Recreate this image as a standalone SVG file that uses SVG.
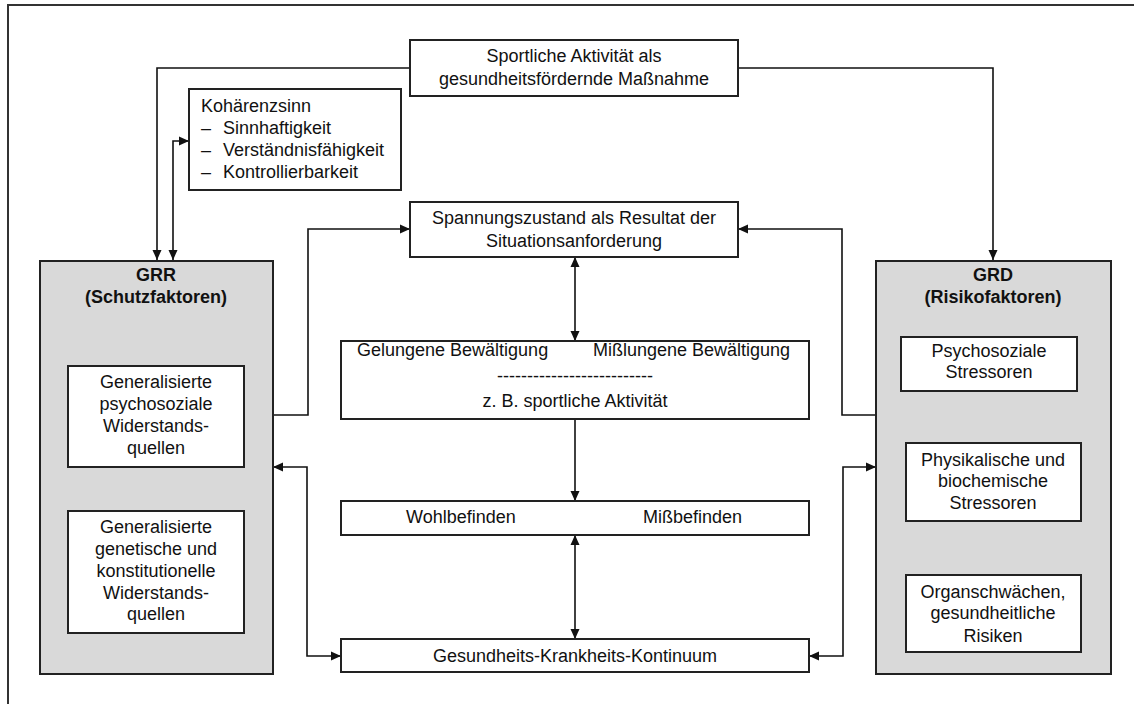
<svg xmlns="http://www.w3.org/2000/svg" width="1134" height="704" viewBox="0 0 1134 704">
  <style>
    text { font-family: "Liberation Sans", Arial, sans-serif; font-size: 18px; fill: #111; }
    .c { text-anchor: middle; }
    .b { font-weight: bold; }
    .box { fill: #fff; stroke: #222; stroke-width: 2; }
    .grp { fill: #d9d9d9; stroke: #222; stroke-width: 2; }
    .frame { fill: none; stroke: #333; stroke-width: 2; }
    .conn { fill: none; stroke: #111; stroke-width: 1.6; }
  </style>
  <defs>
    <marker id="arrow" viewBox="0 0 10 10" refX="10" refY="5" markerWidth="10" markerHeight="10" markerUnits="userSpaceOnUse" orient="auto-start-reverse">
      <path d="M0,0.5 L10,5 L0,9.5 Z" fill="#111"/>
    </marker>
  </defs>

  <!-- outer frame -->
  <rect class="frame" x="8" y="5" width="1140" height="720"/>

  <!-- connectors -->
  <g id="connectors">
    <path class="conn" d="M410,68 H157 V260" marker-end="url(#arrow)"/>
    <path class="conn" d="M173,260 V141 H189" marker-start="url(#arrow)" marker-end="url(#arrow)"/>
    <path class="conn" d="M738,68 H993 V260" marker-end="url(#arrow)"/>
    <path class="conn" d="M273,415 H308 V229 H410" marker-end="url(#arrow)"/>
    <path class="conn" d="M876,415 H842 V229 H738" marker-end="url(#arrow)"/>
    <path class="conn" d="M575,257 V341" marker-start="url(#arrow)" marker-end="url(#arrow)"/>
    <path class="conn" d="M575,419 V501" marker-end="url(#arrow)"/>
    <path class="conn" d="M575,535 V639" marker-start="url(#arrow)" marker-end="url(#arrow)"/>
    <path class="conn" d="M273,467 H307 V656 H341" marker-start="url(#arrow)" marker-end="url(#arrow)"/>
    <path class="conn" d="M876,467 H843 V656 H809" marker-start="url(#arrow)" marker-end="url(#arrow)"/>
  </g>

  <g id="massnahme">
    <rect class="box" x="410" y="40" width="328" height="56"/>
    <text class="c" x="574" y="62">Sportliche Aktivität als</text>
    <text class="c" x="574" y="85">gesundheitsfördernde Maßnahme</text>
  </g>

  <g id="kohaerenzsinn">
    <rect class="box" x="189" y="89" width="212" height="101"/>
    <text x="201" y="112">Kohärenzsinn</text>
    <text x="201" y="134">–</text><text x="223" y="134">Sinnhaftigkeit</text>
    <text x="201" y="156">–</text><text x="223" y="156">Verständnisfähigkeit</text>
    <text x="201" y="178">–</text><text x="223" y="178">Kontrollierbarkeit</text>
  </g>

  <g id="spannungszustand">
    <rect class="box" x="410" y="202" width="328" height="55"/>
    <text class="c" x="574" y="224">Spannungszustand als Resultat der</text>
    <text class="c" x="574" y="247">Situationsanforderung</text>
  </g>

  <g id="grr">
    <rect class="grp" x="40" y="261" width="233" height="413"/>
    <text class="c b" x="156" y="281">GRR</text>
    <text class="c b" x="156" y="303">(Schutzfaktoren)</text>
    <rect class="box" x="68" y="366" width="176" height="101"/>
    <text class="c" x="156" y="388">Generalisierte</text>
    <text class="c" x="156" y="410">psychosoziale</text>
    <text class="c" x="156" y="432">Widerstands-</text>
    <text class="c" x="156" y="454">quellen</text>
    <rect class="box" x="68" y="511" width="176" height="122"/>
    <text class="c" x="156" y="533">Generalisierte</text>
    <text class="c" x="156" y="555">genetische und</text>
    <text class="c" x="156" y="577">konstitutionelle</text>
    <text class="c" x="156" y="599">Widerstands-</text>
    <text class="c" x="156" y="620">quellen</text>
  </g>

  <g id="grd">
    <rect class="grp" x="876" y="261" width="235" height="413"/>
    <text class="c b" x="993" y="281">GRD</text>
    <text class="c b" x="993" y="303">(Risikofaktoren)</text>
    <rect class="box" x="901" y="337" width="176" height="54"/>
    <text class="c" x="989" y="357">Psychosoziale</text>
    <text class="c" x="989" y="378">Stressoren</text>
    <rect class="box" x="906" y="443" width="175" height="78"/>
    <text class="c" x="993" y="466">Physikalische und</text>
    <text class="c" x="993" y="487">biochemische</text>
    <text class="c" x="993" y="509">Stressoren</text>
    <rect class="box" x="906" y="575" width="175" height="77"/>
    <text class="c" x="993" y="598">Organschwächen,</text>
    <text class="c" x="993" y="619">gesundheitliche</text>
    <text class="c" x="993" y="642">Risiken</text>
  </g>

  <g id="bewaeltigung">
    <rect class="box" x="341" y="341" width="468" height="78"/>
    <text x="357" y="356">Gelungene Bewältigung</text>
    <text x="593" y="356">Mißlungene Bewältigung</text>
    <text class="c" x="575" y="382">--------------------------</text>
    <text class="c" x="575" y="407">z. B. sportliche Aktivität</text>
  </g>

  <g id="befinden">
    <rect class="box" x="341" y="501" width="468" height="34"/>
    <text x="406" y="523">Wohlbefinden</text>
    <text x="643" y="523">Mißbefinden</text>
  </g>

  <g id="kontinuum">
    <rect class="box" x="341" y="639" width="468" height="33"/>
    <text class="c" x="575" y="662">Gesundheits-Krankheits-Kontinuum</text>
  </g>
</svg>
